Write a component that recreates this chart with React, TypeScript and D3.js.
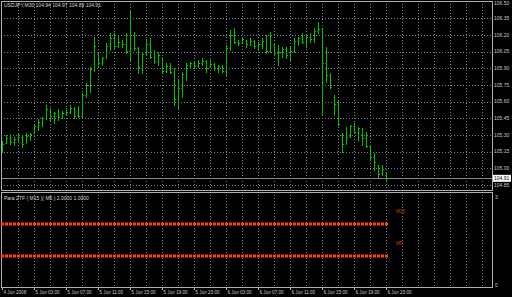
import React from "react";
import * as d3 from "d3";

const highs = [105.249,105.30,105.306,105.285,105.315,105.30,105.315,105.321,105.399,105.441,105.465,105.57,105.54,105.51,105.531,105.519,105.54,105.57,105.555,105.561,105.675,105.765,105.915,106.179,106.035,106.005,106.131,106.221,106.215,106.20,106.155,106.215,106.425,106.23,106.095,106.05,106.161,106.17,106.065,106.05,105.99,105.945,105.945,105.90,105.795,105.87,105.945,105.96,105.969,105.975,105.99,105.975,105.975,105.945,105.93,105.93,106.11,106.245,106.26,106.155,106.185,106.155,106.17,106.155,106.14,106.17,106.20,106.23,106.125,106.11,106.095,106.095,106.095,106.17,106.185,106.215,106.20,106.215,106.26,106.32,106.26,106.095,105.855,105.66,105.615,105.315,105.375,105.39,105.405,105.375,105.36,105.33,105.21,105.135,105.03,105.03,104.97];
const lows = [105.144,105.225,105.219,105.21,105.24,105.195,105.24,105.255,105.321,105.345,105.381,105.441,105.435,105.411,105.435,105.45,105.48,105.495,105.45,105.465,105.45,105.645,105.69,105.879,105.915,105.93,105.99,106.065,106.08,106.095,106.089,106.035,105.975,106.065,105.855,105.855,106.02,105.99,105.945,105.93,105.855,105.87,105.855,105.57,105.54,105.645,105.795,105.90,105.90,105.915,105.93,105.87,105.915,105.885,105.87,105.87,105.84,106.065,106.125,106.11,106.125,106.095,106.11,106.08,106.065,106.08,106.035,106.05,106.02,105.93,106.005,105.99,105.975,106.05,106.11,106.125,106.095,106.14,106.14,106.215,105.48,105.78,105.72,105.48,105.39,105.15,105.225,105.285,105.315,105.255,105.21,105.195,105.075,104.985,104.925,104.94,104.89];
const opens = [105.16,105.23,105.27,105.24,105.26,105.28,105.23,105.29,105.32,105.37,105.42,105.45,105.52,105.47,105.50,105.47,105.50,105.51,105.54,105.48,105.47,105.66,105.74,105.89,106.03,105.95,105.99,106.10,106.17,106.10,106.14,106.12,106.06,106.20,106.08,105.90,106.03,106.12,106.00,105.96,106.00,105.88,105.92,105.87,105.62,105.72,105.85,105.93,105.95,105.92,105.95,105.97,105.92,105.94,105.90,105.92,105.88,106.08,106.20,106.14,106.13,106.15,106.12,106.15,106.10,106.12,106.15,106.06,106.11,106.04,106.05,106.07,106.02,106.06,106.15,106.17,106.14,106.18,106.16,106.24,106.25,105.95,105.84,105.64,105.58,105.30,105.22,105.29,105.38,105.33,105.35,105.27,105.20,105.10,105.03,104.96,104.94];
const closes = [105.22,105.27,105.24,105.26,105.28,105.22,105.29,105.31,105.38,105.42,105.45,105.53,105.47,105.50,105.46,105.50,105.51,105.54,105.47,105.47,105.66,105.75,105.89,106.10,105.95,105.99,106.10,106.17,106.10,106.14,106.12,106.06,106.20,106.08,105.91,106.03,106.12,106.00,105.97,106.02,105.88,105.92,105.87,105.62,105.72,105.85,105.93,105.95,105.92,105.95,105.97,105.90,105.94,105.90,105.92,105.88,106.08,106.20,106.14,106.13,106.16,106.12,106.15,106.10,106.12,106.15,106.06,106.20,106.04,106.05,106.07,106.02,106.06,106.15,106.17,106.14,106.18,106.16,106.24,106.25,105.95,105.84,105.73,105.58,105.40,105.22,105.28,105.38,105.33,105.36,105.27,105.20,105.10,105.06,104.95,104.99,104.91];

const priceTicks = [106.5,106.35,106.2,106.05,105.9,105.75,105.6,105.45,105.3,105.15,105.0,104.85];
const timeLabels = ["4 Jun 2008","5 Jun 03:00","5 Jun 07:00","5 Jun 11:00","5 Jun 15:00","5 Jun 19:00","5 Jun 23:00","6 Jun 03:00","6 Jun 07:00","6 Jun 11:00","6 Jun 15:00","6 Jun 19:00","6 Jun 23:00"];
const ztfLevels = [2, 1];
const ztfNames = ["M15", "M5"];
const subTicks = [3, 0];
const header = "USDJPY,M30 104.94 104.97 104.89 104.91";
const subTitle = "Para ZTF ( M15 )( M5 ) 2.0000 1.0000";
const lastPrice = 104.91;

export default function App() {
  const W = 512, H = 297;
  const left = 1, right = 492;
  const mainTop = 1, mainBottom = 190;
  const subTop = 192, subBottom = 287;
  const x = d3.scaleLinear().domain([0, 96]).range([2.5, 386.5]);
  const y = d3.scaleLinear().domain([104.85, 106.5]).range([185, 1.67]);
  const ys = d3.scaleLinear().domain([0, 3]).range([288, 192]);
  const gridColor = "#6f7f8f";
  const font = "'Liberation Sans', Arial, sans-serif";
  const n = highs.length;
  const gridXs = d3.range(4, 124, 4).map((i) => x(i)).filter((v) => v < right - 2);
  const bars = d3.range(n);
  return (
    <svg width={W} height={H} style={{ position: "absolute", left: 0, top: 0, background: "#000" }}>
      <rect x={0} y={0} width={W} height={H} fill="#000" />
      {priceTicks.slice(1).map((p, k) => (
        <line key={"hg" + k} x1={left} x2={right} y1={Math.round(y(p)) + 0.5} y2={Math.round(y(p)) + 0.5} stroke={gridColor} strokeDasharray="1,2" strokeWidth={1} />
      ))}
      {gridXs.map((gx, k) => (
        <g key={"vg" + k}>
          <line x1={Math.floor(gx) + 0.5} x2={Math.floor(gx) + 0.5} y1={mainTop} y2={mainBottom} stroke={gridColor} strokeDasharray="1,2" />
          <line x1={Math.floor(gx) + 0.5} x2={Math.floor(gx) + 0.5} y1={subTop} y2={subBottom} stroke={gridColor} strokeDasharray="1,2" />
        </g>
      ))}
      {bars.map((i) => {
        const cx = Math.floor(x(i)) + 0.5;
        return (
          <g key={"b" + i} stroke="#00c000" strokeWidth={1}>
            <line x1={cx} x2={cx} y1={Math.round(y(highs[i]))} y2={Math.round(y(lows[i])) + 1} />
            <line x1={cx - 1} x2={cx} y1={Math.round(y(opens[i])) + 0.5} y2={Math.round(y(opens[i])) + 0.5} />
            <line x1={cx} x2={cx + 1.5} y1={Math.round(y(closes[i])) + 0.5} y2={Math.round(y(closes[i])) + 0.5} />
          </g>
        );
      })}
      <line x1={left} x2={right} y1={Math.round(y(lastPrice)) + 0.5} y2={Math.round(y(lastPrice)) + 0.5} stroke="#8a8a8a" />
      <rect x={left + 0.5} y={mainTop + 0.5} width={right - left} height={mainBottom - mainTop} fill="none" stroke="#b0b0b0" />
      <rect x={left + 0.5} y={subTop + 0.5} width={right - left} height={subBottom - subTop} fill="none" stroke="#b0b0b0" />
      {priceTicks.map((p, k) => (
        <text key={"pl" + k} x={494} y={Math.max(y(p), 3.5)} dy="0.35em" fontSize={5} fill="#c8c8c8" fontFamily={font}>{p.toFixed(2)}</text>
      ))}
      <rect x={493} y={y(lastPrice) - 3.5} width={18} height={7} fill="#ffffff" />
      <text x={494} y={y(lastPrice)} dy="0.35em" fontSize={5} fill="#000" fontFamily={font}>{lastPrice.toFixed(2)}</text>
      <text x={4} y={5} dy="0.35em" fontSize={5} fill="#d8d8d8" fontFamily={font}>{header}</text>
      <text x={4} y={198} dy="0.35em" fontSize={5} fill="#d8d8d8" fontFamily={font}>{subTitle}</text>
      {ztfLevels.map((lv, k) => (
        <g key={"z" + k}>
          {bars.map((i) => (
            <rect key={i} x={Math.floor(x(i)) - 1} y={Math.round(ys(lv)) - 1.5} width={3} height={3} fill="#ff4500" />
          ))}
          <text x={396} y={ys(lv) - 13} dy="0.35em" fontSize={4.5} fill="#d04010" fontFamily={font}>{ztfNames[k]}</text>
        </g>
      ))}
      {subTicks.map((t, k) => (
        <text key={"st" + k} x={495} y={ys(t) + (k === 0 ? 5 : -3)} dy="0.35em" fontSize={5} fill="#c8c8c8" fontFamily={font}>{t}</text>
      ))}
      {timeLabels.map((lbl, k) => {
        const tx = Math.floor(x(k * 8)) + 0.5;
        return (
          <g key={"tl" + k}>
            <line x1={tx} x2={tx} y1={subBottom} y2={subBottom + 3} stroke="#b0b0b0" />
            <text x={tx + 1} y={292.5} dy="0.35em" fontSize={4.6} fill="#c8c8c8" fontFamily={font}>{lbl}</text>
          </g>
        );
      })}
    </svg>
  );
}
